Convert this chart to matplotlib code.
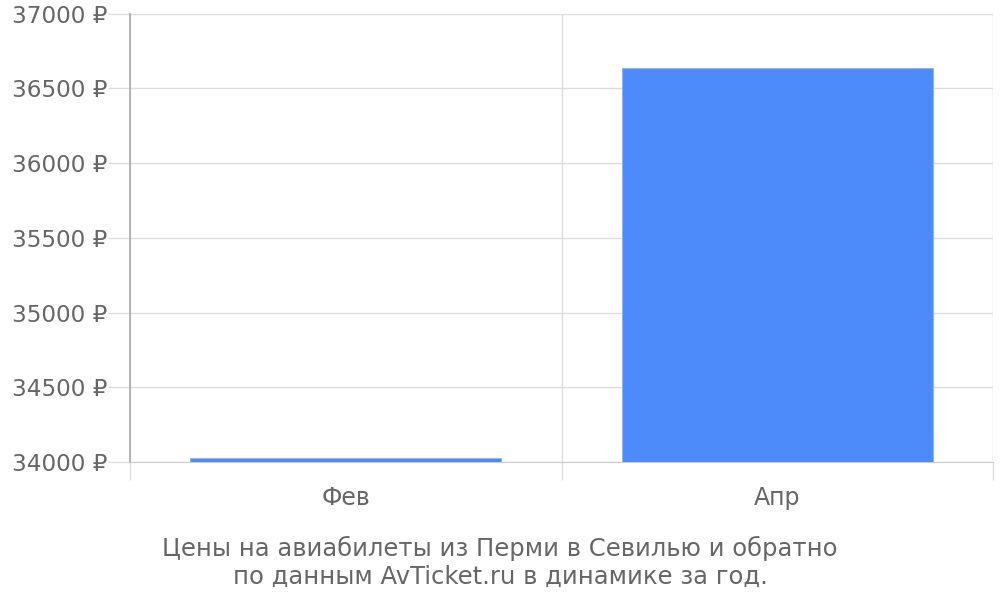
import matplotlib
matplotlib.use("Agg")
import matplotlib.pyplot as plt
import numpy as np

# prices by month
months = ["Фев", "Апр"]
prices = [34025, 36636]
y_ticks = [34000, 34500, 35000, 35500, 36000, 36500, 37000]
caption = "Цены на авиабилеты из Перми в Севилью и обратно\nпо данным AvTicket.ru в динамике за год."

grid_col = "#dddddd"
text_col = "#666666"

fig = plt.figure(figsize=(10, 6), dpi=100)
ax = fig.add_axes([0.130, 0.230, 0.863, 0.747])

x = np.arange(len(months))
ax.bar(x, prices, width=0.72, color="#4e8bfa", edgecolor="#8fb5fb", linewidth=0.8, zorder=3)

ax.set_xlim(-0.5, len(months) - 0.5)
ax.set_ylim(34000, 37000)
ax.set_yticks(y_ticks)
ax.set_yticklabels([f"{v} ₽" for v in y_ticks])
ax.set_xticks(x)
ax.set_xticklabels(months)
ax.set_xticks(np.arange(len(months) + 1) - 0.5, minor=True)

ax.grid(axis="y", color=grid_col, linewidth=1, zorder=0)
ax.grid(axis="x", which="minor", color=grid_col, linewidth=1, zorder=0)

ax.tick_params(axis="y", length=16, color=grid_col, width=1, labelsize=16.7, labelcolor=text_col, pad=0.5)
ax.tick_params(axis="x", which="major", length=0, labelsize=17, labelcolor=text_col, pad=17)
ax.tick_params(axis="x", which="minor", length=13, color=grid_col, width=1)

for s in ["top", "right"]:
    ax.spines[s].set_visible(False)
ax.spines["left"].set_color("#aaaaaa")
ax.spines["left"].set_linewidth(1.2)
ax.spines["bottom"].set_color("#cccccc")

fig.text(0.5, 0.019, caption, ha="center", va="bottom", fontsize=17.5,
         color=text_col, linespacing=1.18)

fig.savefig("out.png", dpi=100)
